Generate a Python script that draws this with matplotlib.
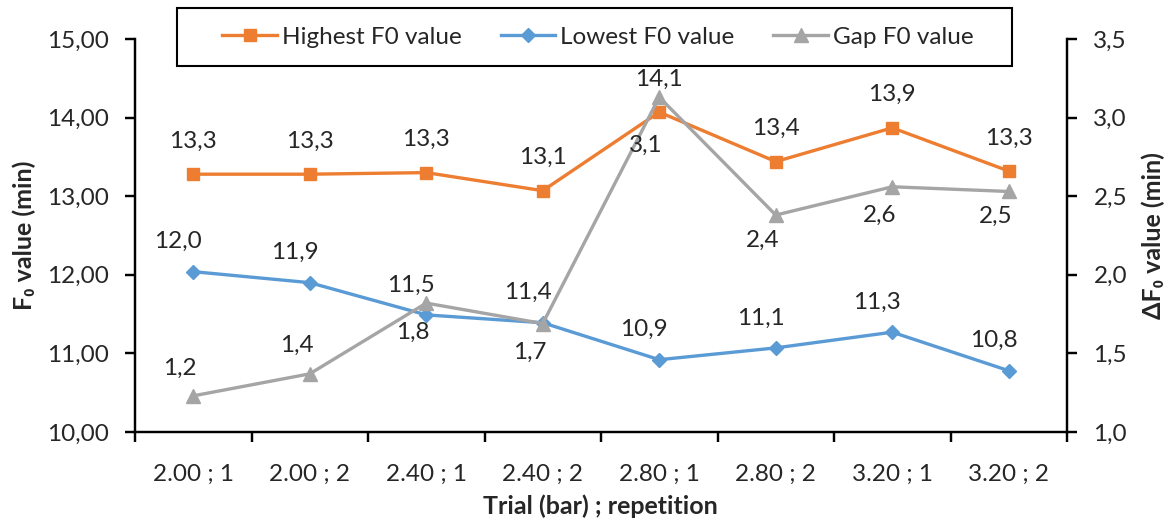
import matplotlib
matplotlib.use('Agg')
import matplotlib.pyplot as plt
from matplotlib.patches import Rectangle
from matplotlib.ticker import FixedLocator, FuncFormatter, NullFormatter

plt.rcParams['font.family'] = ['Lato', 'DejaVu Sans']

trials = ['2.00 ; 1', '2.00 ; 2', '2.40 ; 1', '2.40 ; 2',
          '2.80 ; 1', '2.80 ; 2', '3.20 ; 1', '3.20 ; 2']
highest = [13.28, 13.28, 13.30, 13.07, 14.07, 13.44, 13.87, 13.32]
lowest = [12.04, 11.90, 11.49, 11.39, 10.92, 11.07, 11.27, 10.78]
gap = [1.23, 1.37, 1.82, 1.69, 3.13, 2.38, 2.56, 2.53]

# where the gap labels sit (pixels from the point)
gap_label_dy = [28, 28, -29, -29, -48, -25, -29, -25]

orange = '#ED7D31'
blue = '#5B9BD5'
grey = '#A5A5A5'
txt = '#262626'
fs = 17.5


def fmt(v):
    return '{:.1f}'.format(v).replace('.', ',')


W, H = 1173, 529
fig = plt.figure(figsize=(W / 100, H / 100), dpi=100)
ax = fig.add_axes([135 / W, 1 - 432 / H, (1067 - 135) / W, (432 - 39) / H])
ax2 = ax.twinx()

x = list(range(len(trials)))

l1, = ax.plot(x, highest, color=orange, lw=2.4, marker='s', ms=9, zorder=3,
              label='Highest F0 value')
l2, = ax.plot(x, lowest, color=blue, lw=2.4, marker='D', ms=7.5, zorder=3,
              label='Lowest F0 value')
l3, = ax2.plot(x, gap, color=grey, lw=2.4, marker='^', ms=10, zorder=3,
               label='Gap F0 value')

for i, v in enumerate(highest):
    ax.annotate(fmt(v), (i, v), xytext=(0, 33), textcoords='offset pixels',
                ha='center', va='center', fontsize=fs, color=txt)
for i, v in enumerate(lowest):
    ax.annotate(fmt(v), (i, v), xytext=(-15, 30), textcoords='offset pixels',
                ha='center', va='center', fontsize=fs, color=txt)
for i, v in enumerate(gap):
    ax2.annotate(fmt(v), (i, v), xytext=(-13, gap_label_dy[i]),
                 textcoords='offset pixels',
                 ha='center', va='center', fontsize=fs, color=txt)

ax.set_xlim(-0.5, len(trials) - 0.5)
ax.set_ylim(10, 15)
ax2.set_ylim(1.0, 3.5)

ax.set_yticks([10, 11, 12, 13, 14, 15])
ax.yaxis.set_major_formatter(FuncFormatter(lambda v, p: '{:.2f}'.format(v).replace('.', ',')))
ax2.set_yticks([1.0, 1.5, 2.0, 2.5, 3.0, 3.5])
ax2.yaxis.set_major_formatter(FuncFormatter(lambda v, p: '{:.1f}'.format(v).replace('.', ',')))

ax.xaxis.set_major_locator(FixedLocator([i - 0.5 for i in range(len(trials) + 1)]))
ax.xaxis.set_major_formatter(NullFormatter())
ax.xaxis.set_minor_locator(FixedLocator(x))
ax.set_xticklabels(trials, minor=True)
ax.tick_params(axis='x', which='minor', length=0, pad=23, labelsize=fs, labelcolor=txt)
ax.tick_params(axis='x', which='major', length=7, width=1.75, direction='out')
ax.tick_params(axis='y', length=7, width=1.75, direction='out', pad=12,
               labelsize=fs, labelcolor=txt)
ax2.tick_params(axis='y', length=7, width=1.75, direction='out', pad=12,
                labelsize=fs, labelcolor=txt)

for s in ['top', 'right']:
    ax.spines[s].set_visible(False)
for s in ['top', 'left', 'bottom']:
    ax2.spines[s].set_visible(False)
for s in ['left', 'bottom']:
    ax.spines[s].set_linewidth(1.75)
ax2.spines['right'].set_linewidth(1.75)

ax.set_ylabel('F₀ value (min)', fontsize=18, fontweight='bold', color=txt)
ax.yaxis.set_label_coords(-0.106, 0.5)
ax2.set_ylabel('ΔF₀ value (min)', fontsize=18, fontweight='bold', color=txt)
ax2.yaxis.set_label_coords(1.08, 0.5)
ax.set_xlabel('Trial (bar) ; repetition', fontsize=18, fontweight='bold', color=txt)
ax.xaxis.set_label_coords(0.499, -0.16)

# legend box as Excel draws it, wider than the entries
fig.patches.append(Rectangle((177 / W, 1 - 66 / H), (1012 - 177) / W, 58 / H,
                             transform=fig.transFigure, facecolor='white',
                             edgecolor='black', linewidth=1.5, zorder=5))
leg = fig.legend(handles=[l1, l2, l3], loc='center', bbox_to_anchor=(598 / W, 1 - 37 / H),
                 ncol=3, fontsize=fs, frameon=False,
                 handlelength=2.25, handletextpad=0.2, columnspacing=1.6,
                 labelcolor=txt)
leg.set_zorder(6)

fig.savefig('out.png', dpi=100)
